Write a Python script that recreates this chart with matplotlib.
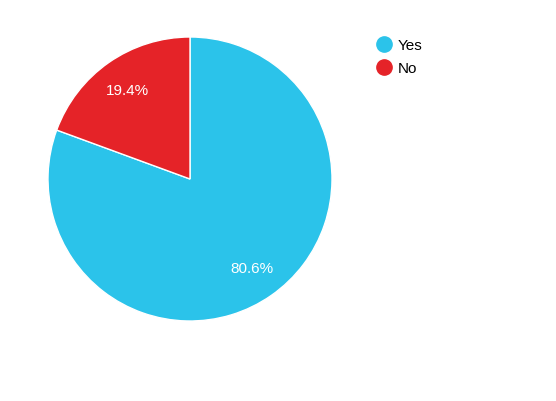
import matplotlib.pyplot as plt
from matplotlib.lines import Line2D

plt.rcParams['font.family'] = ['Liberation Sans', 'DejaVu Sans']

labels = ['Yes', 'No']
values = [80.6, 19.4]
colors = ['#2bc3ea', '#e52328']

fig = plt.figure(figsize=(5.56, 4.02), dpi=100)
ax = fig.add_axes([48 / 556, 80 / 402, 284 / 556, 284 / 402])
wedges, texts, autotexts = ax.pie(values, colors=colors, startangle=90, counterclock=False,
                                  autopct='%.1f%%', pctdistance=0.765,
                                  wedgeprops={'edgecolor': 'white', 'linewidth': 1},
                                  textprops={'color': 'white', 'fontsize': 11})
ax.set_xlim(-1, 1)
ax.set_ylim(-1, 1)
ax.set_aspect('equal')

handles = [Line2D([], [], marker='o', linestyle='', markersize=11, markerfacecolor=c, markeredgecolor=c)
           for c in colors]
fig.legend(handles, labels, loc='upper left', bbox_to_anchor=(366 / 556, 1 - 33 / 402), frameon=False,
           fontsize=11, handletextpad=0.05, handlelength=1.6, labelspacing=0.6, borderaxespad=0)

plt.savefig('out.png', dpi=100)
